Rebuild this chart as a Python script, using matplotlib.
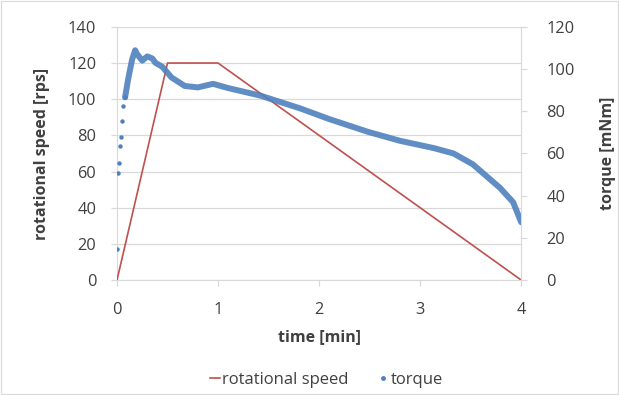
import matplotlib
matplotlib.use("Agg")
import matplotlib.pyplot as plt
from matplotlib.lines import Line2D
from matplotlib.patches import Rectangle

plt.rcParams['font.family'] = ['Open Sans', 'DejaVu Sans']

# rotational speed program (left axis, rps)
speed_time = [0, 0.5, 1.0, 4.0]
speed_values = [0, 120, 120, 0]

# measured torque (right axis, mNm)
torque_time = [0.00, 0.01, 0.02, 0.03, 0.04, 0.05, 0.06, 0.08, 0.11, 0.15, 0.18,
               0.20, 0.25, 0.30, 0.35, 0.38, 0.45, 0.54, 0.67, 0.80, 0.95, 1.10,
               1.42, 1.81, 2.10, 2.48, 2.80, 3.13, 3.33, 3.52, 3.79, 3.92, 4.00]
torque_values = [14.6, 50.6, 55.7, 63.4, 67.7, 75.4, 82.3, 86.6, 95.1, 104.6, 108.9,
                 107.0, 104.0, 106.0, 105.0, 103.0, 101.0, 96.0, 92.0, 91.3, 93.0, 91.0,
                 87.4, 81.4, 76.3, 70.3, 66.0, 62.6, 60.0, 54.9, 43.7, 36.9, 27.4]

x_ticks = [0, 1, 2, 3, 4]
left_ticks = [0, 20, 40, 60, 80, 100, 120, 140]
right_ticks = [0, 20, 40, 60, 80, 100, 120]

blue = '#4F81BD'
red = '#C0504D'
grid_c = '#D9D9D9'
txt = '#404040'

fig = plt.figure(figsize=(6.19, 3.95), dpi=100)
fig.patches.append(Rectangle((0.002, 0.003), 0.996, 0.994, transform=fig.transFigure,
                             fill=False, edgecolor='#D9D9D9', lw=0.8))
ax = fig.add_axes([0.189, 0.291, 0.653, 0.641])
ax2 = ax.twinx()

ax.plot(speed_time, speed_values, color=red, lw=1.2, zorder=3)

# torque: sparse start points + dense band
n_sparse = 8
ax2.plot(torque_time[:n_sparse], torque_values[:n_sparse], ls='none', marker='o',
         ms=2.2, color=blue, zorder=4)
ax2.plot(torque_time[n_sparse - 1:], torque_values[n_sparse - 1:], color=blue, lw=4.3,
         alpha=0.9, solid_capstyle='round', solid_joinstyle='round', zorder=4)

ax.set_xlim(0, 4)
ax.set_ylim(0, 140)
ax2.set_ylim(0, 120)
ax.set_xticks(x_ticks)
ax.set_yticks(left_ticks)
ax2.set_yticks(right_ticks)

ax.yaxis.grid(True, color=grid_c, lw=0.9)
ax.set_axisbelow(True)

for a in (ax, ax2):
    for s in a.spines.values():
        s.set_visible(False)
ax.spines['left'].set_visible(True)
ax.spines['left'].set_color(grid_c)
ax.spines['bottom'].set_visible(True)
ax.spines['bottom'].set_color(grid_c)
ax2.spines['right'].set_visible(True)
ax2.spines['right'].set_color(grid_c)

ax.tick_params(axis='both', colors=grid_c, labelcolor=txt, labelsize=11.8, length=4, width=0.9)
ax2.tick_params(axis='y', colors=grid_c, labelcolor=txt, labelsize=11.8, length=4, width=0.9)
ax.tick_params(axis='x', pad=12)
ax.tick_params(axis='y', pad=11)
ax2.tick_params(axis='y', pad=14)

ax.set_xlabel('time [min]', fontsize=11.5, fontweight='bold', color=txt, labelpad=8)
ax.set_ylabel('rotational speed [rps]', fontsize=11.5, fontweight='bold', color=txt, labelpad=13)
ax2.set_ylabel('torque [mNm]', fontsize=11.5, fontweight='bold', color=txt, labelpad=18)

handles = [Line2D([], [], color=red, lw=1.2),
           Line2D([], [], ls='none', marker='o', ms=2.5, color=blue)]
fig.legend(handles, ['rotational speed', 'torque'], loc='center', bbox_to_anchor=(0.527, 0.038),
           ncol=2, frameon=False, fontsize=12, handlelength=0.6, handletextpad=0.15,
           columnspacing=1.75, labelcolor=txt)

fig.savefig('out.png', dpi=100)
